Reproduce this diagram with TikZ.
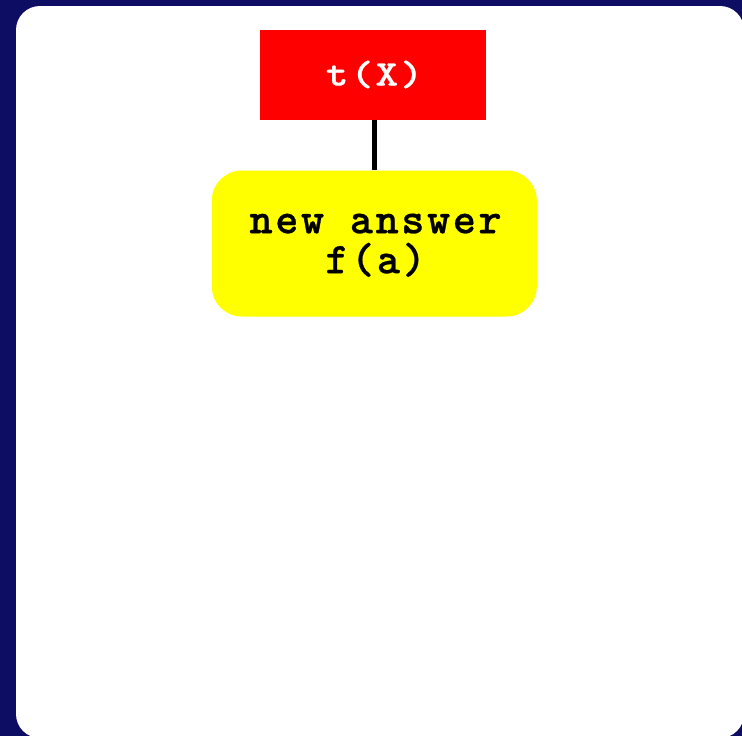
\documentclass[tikz,border=0pt]{standalone}
\usepackage{fontspec}
\newfontfamily\monobred{lmmonolt10-bold.otf}[LetterSpace=6, FakeStretch=1.2, FakeBold=0.6]
\newfontfamily\monobyel{lmmonolt10-bold.otf}[LetterSpace=6, FakeBold=0.6]
\definecolor{navybg}{RGB}{13,13,99}
\definecolor{boxred}{RGB}{255,0,0}
\definecolor{boxyellow}{RGB}{255,255,0}
\tikzset{
  redbox/.style={fill=boxred, draw=none, minimum width=226pt, minimum height=90pt, inner sep=0pt,
    text=white, font=\fontsize{36}{36}\selectfont\monobred},
  yellowbox/.style={fill=boxyellow, draw=none, rounded corners=30pt, minimum width=325pt, minimum height=146pt,
    inner sep=0pt, align=center, text=black, font=\fontsize{44}{40}\selectfont\monobyel},
  link/.style={draw=black, line width=5.5pt}
}
\begin{document}
\begin{tikzpicture}[x=1pt,y=1pt]
\useasboundingbox (0,0) rectangle (742,-736);
\fill[navybg] (0,0) rectangle (742,-736);
\begin{scope}
\clip (0,0) rectangle (742,-736);
\fill[white, rounded corners=24pt] (16,-6) rectangle (744,-738);
\end{scope}
\node[redbox] (t) at (373.3,-74.5) {\kern2.2pt t(X)};
\node[yellowbox] (n) at (374.3,-243.5) {\rule{0pt}{23pt}\kern2.6pt new answer\\\kern2.6pt f(a)};
\draw[link] (n.north) -- (n.north |- t.south);
\end{tikzpicture}
\end{document}
